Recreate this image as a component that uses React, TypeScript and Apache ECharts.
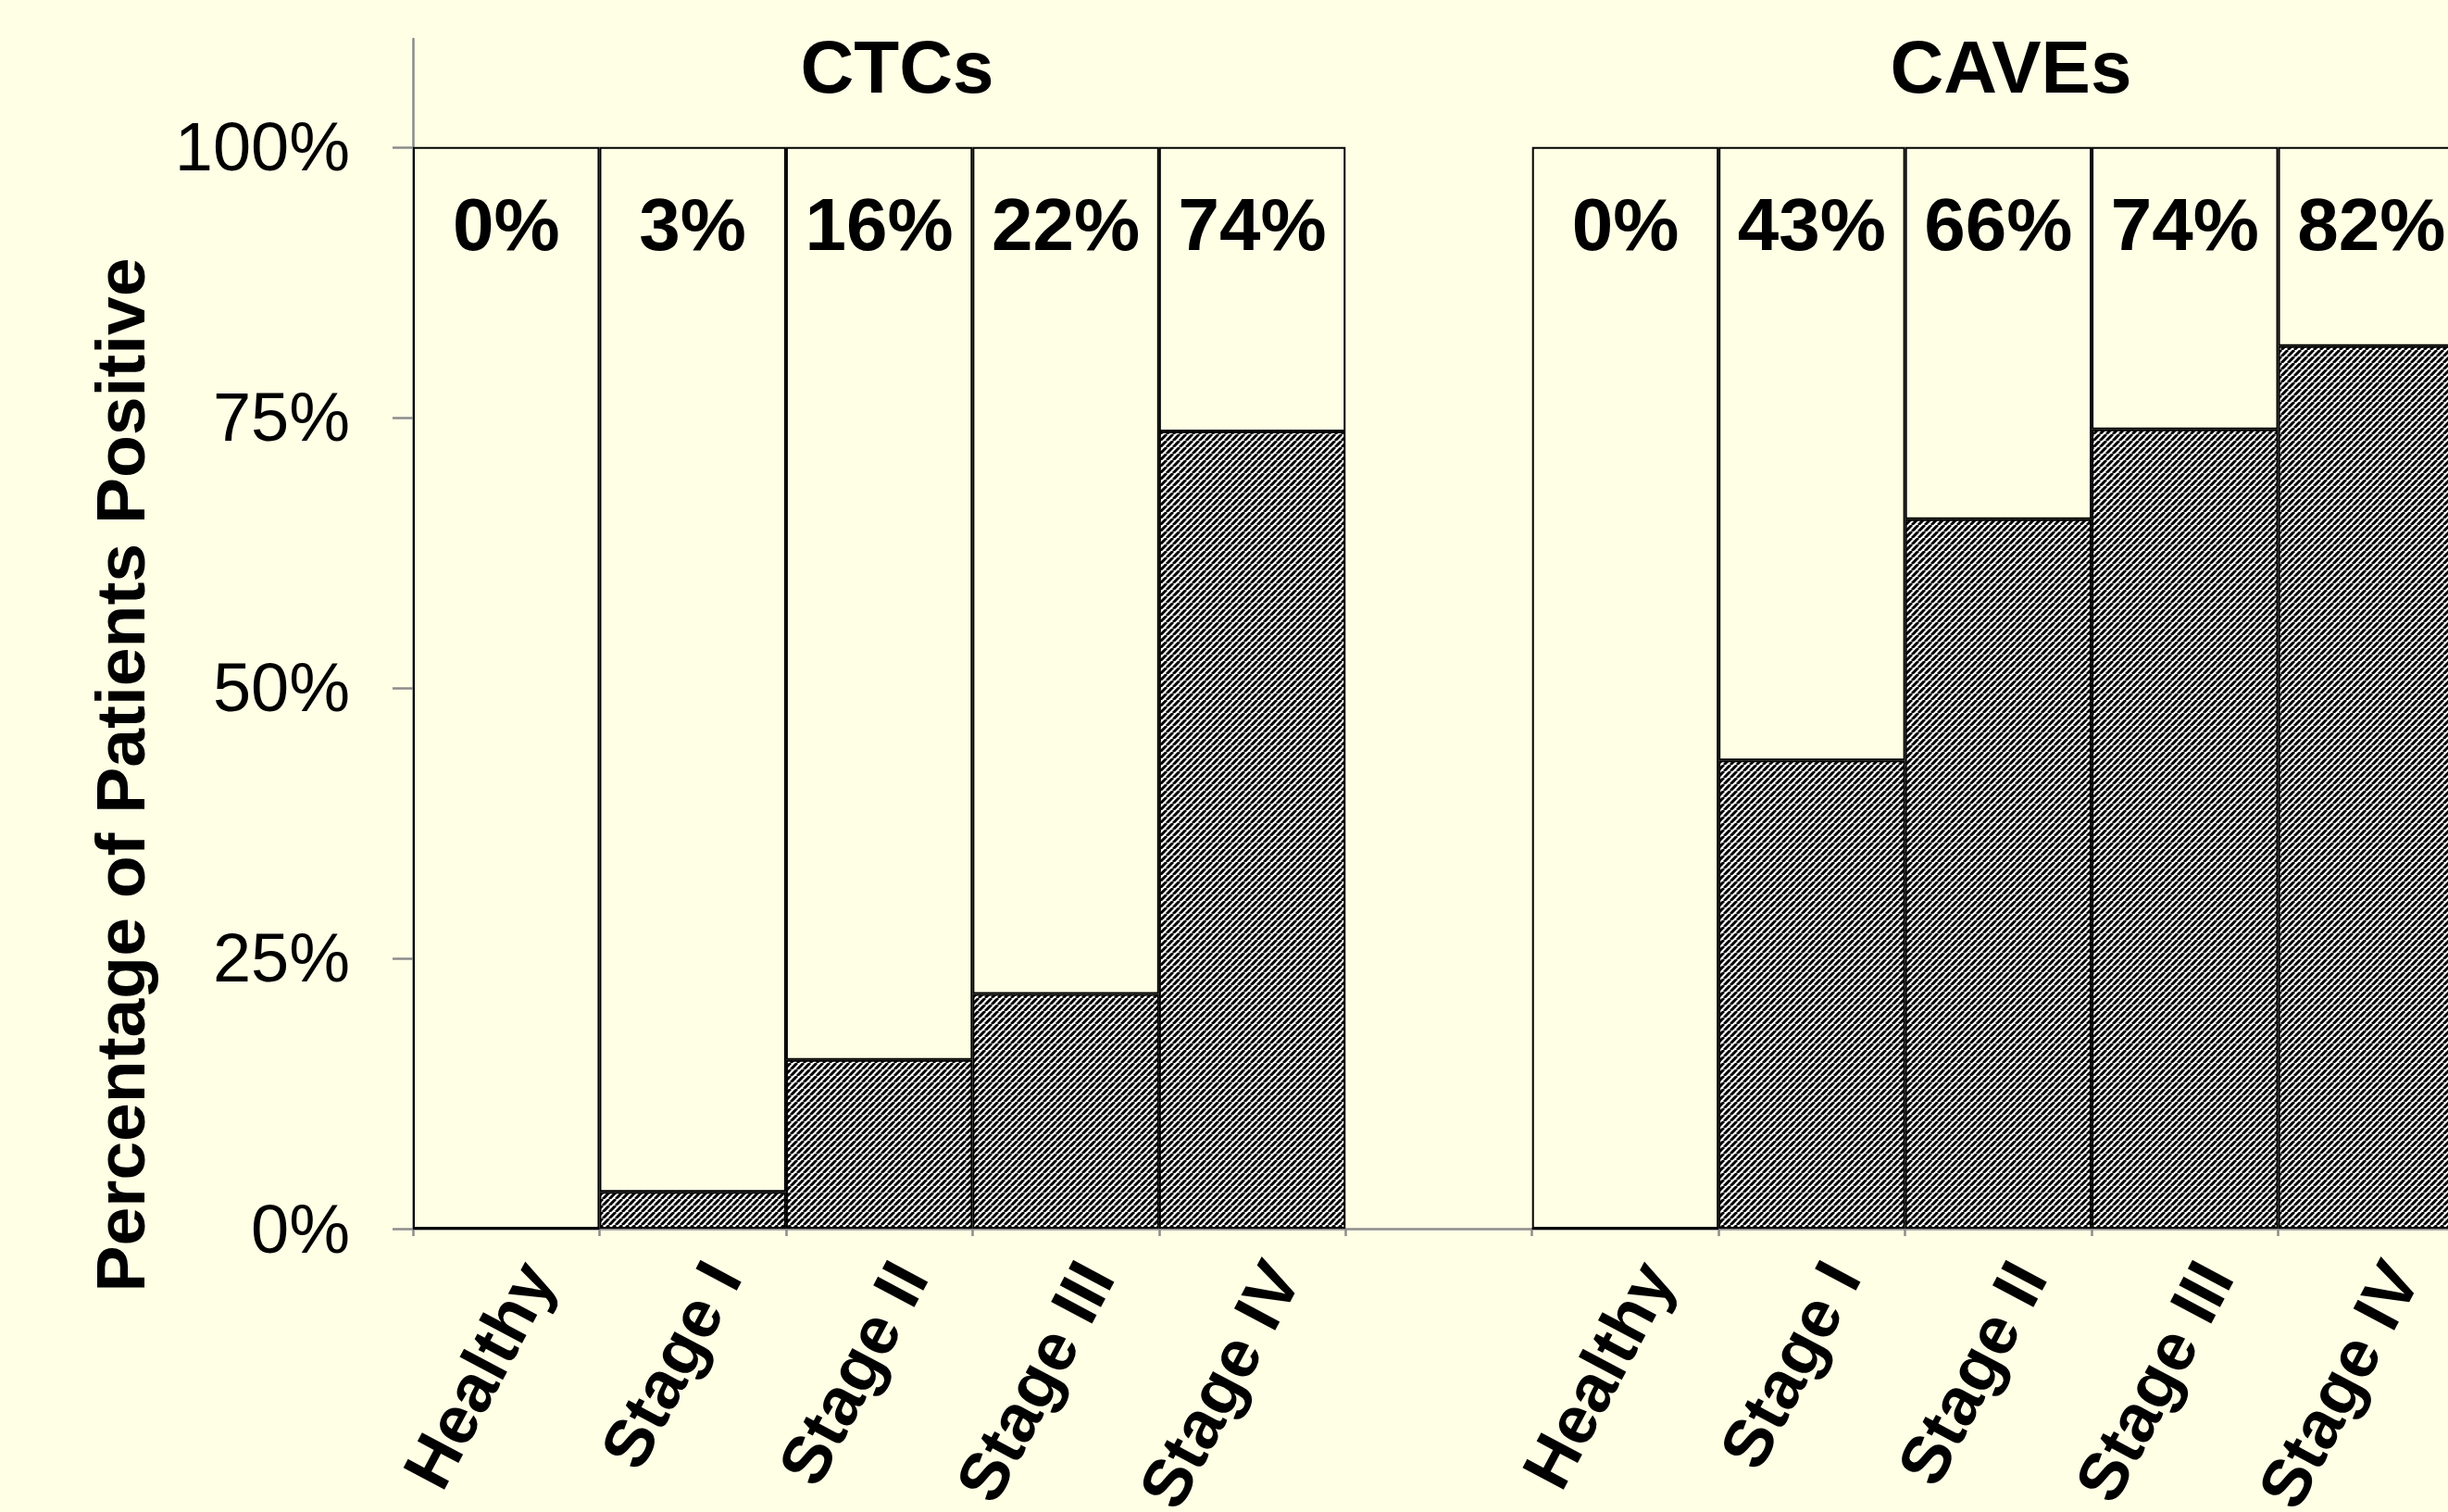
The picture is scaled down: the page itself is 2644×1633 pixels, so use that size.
import React, { useEffect, useRef } from 'react';
import * as echarts from 'echarts';

const categories = [
  'Healthy', 'Stage I', 'Stage II', 'Stage III', 'Stage IV',
  '',
  'Healthy', 'Stage I', 'Stage II', 'Stage III', 'Stage IV',
];
const ctcValues = [0, 3.4, 15.6, 21.7, 73.7];
const caveValues = [0, 43.3, 65.6, 73.9, 81.6];
const yTicks = [0, 25, 50, 75, 100];
const groupTitles = ['CTCs', 'CAVEs'];
const yAxisTitle = 'Percentage of Patients Positive';

const FONT = '"Liberation Sans", Arial, sans-serif';
const BG = '#FFFFE6';
const AXIS = '#8c8c8c';

function makeHatch() {
  const n = 7;
  const c = document.createElement('canvas');
  c.width = n;
  c.height = n;
  const ctx = c.getContext('2d')!;
  ctx.fillStyle = '#ffffff';
  ctx.fillRect(0, 0, n, n);
  ctx.strokeStyle = '#000000';
  ctx.lineWidth = 3;
  ctx.beginPath();
  for (let k = -1; k <= 1; k++) {
    ctx.moveTo(k * n, n);
    ctx.lineTo(k * n + n, 0);
  }
  ctx.stroke();
  return { image: c.toDataURL(), repeat: 'repeat', imageWidth: n, imageHeight: n };
}

export default function App() {
  const ref = useRef<HTMLDivElement>(null);
  useEffect(() => {
    if (!ref.current) return;
    const chart = echarts.init(ref.current, null, { renderer: 'svg' });
    const positive: (number | string)[] = [...ctcValues, '-', ...caveValues];
    const remainder = positive.map((v) => (v === '-' ? '-' : 100 - (v as number)));
    const labelText = positive.map((v) => (v === '-' ? '' : Math.round(v as number) + '%'));
    const hatch = makeHatch();

    chart.setOption({
      animation: false,
      backgroundColor: BG,
      textStyle: { fontFamily: FONT },
      grid: {
        left: 446,
        top: 42,
        width: 2216,
        height: 1285,
        containLabel: false,
        outerBoundsMode: 'none',
      },
      xAxis: {
        type: 'category',
        data: categories,
        boundaryGap: true,
        axisLine: { show: true, lineStyle: { color: AXIS, width: 2.5 } },
        axisTick: { show: true, interval: 0, length: 8, lineStyle: { color: AXIS, width: 2.5 } },
        axisLabel: {
          interval: 0,
          rotate: 62,
          margin: 24,
          verticalAlign: 'top',
          fontSize: 73,
          fontWeight: 'bold',
          color: '#000',
          fontFamily: FONT,
          hideOverlap: false,
        },
      },
      yAxis: {
        type: 'value',
        min: 0,
        max: 110,
        interval: 25,
        splitLine: { show: false },
        axisLine: { show: true, lineStyle: { color: AXIS, width: 2.5 } },
        axisTick: { show: true, customValues: yTicks, length: 22, lineStyle: { color: AXIS, width: 2.5 } },
        axisLabel: {
          customValues: yTicks,
          formatter: (v: number) => v + '%',
          margin: 68,
          fontSize: 74,
          color: '#000',
          fontFamily: FONT,
        },
      },
      series: [
        {
          type: 'bar',
          stack: 'total',
          data: positive,
          barCategoryGap: '0%',
          itemStyle: { color: hatch as any, borderColor: '#000', borderWidth: 2 },
          silent: true,
        },
        {
          type: 'bar',
          stack: 'total',
          data: remainder,
          barCategoryGap: '0%',
          itemStyle: { color: 'rgba(0,0,0,0)', borderColor: '#000', borderWidth: 2 },
          label: {
            show: true,
            position: ['50%', 84],
            align: 'center',
            verticalAlign: 'middle',
            formatter: (p: any) => labelText[p.dataIndex],
            fontSize: 80,
            fontWeight: 'bold',
            color: '#000',
            fontFamily: FONT,
          },
          silent: true,
        },
      ],
      graphic: [
        {
          type: 'text',
          x: 969,
          y: 72,
          style: {
            text: groupTitles[0],
            fontSize: 80,
            fontWeight: 'bold',
            fontFamily: FONT,
            fill: '#000',
            align: 'center',
            verticalAlign: 'middle',
            textAlign: 'center',
            textVerticalAlign: 'middle',
          },
        },
        {
          type: 'text',
          x: 2172,
          y: 72,
          style: {
            text: groupTitles[1],
            fontSize: 80,
            fontWeight: 'bold',
            fontFamily: FONT,
            fill: '#000',
            align: 'center',
            verticalAlign: 'middle',
            textAlign: 'center',
            textVerticalAlign: 'middle',
          },
        },
        {
          type: 'text',
          x: 130,
          y: 837,
          rotation: Math.PI / 2,
          style: {
            text: yAxisTitle,
            fontSize: 75,
            fontWeight: 'bold',
            fontFamily: FONT,
            fill: '#000',
            align: 'center',
            verticalAlign: 'middle',
            textAlign: 'center',
            textVerticalAlign: 'middle',
          },
        },
      ],
    });
    return () => chart.dispose();
  }, []);
  return (
    <div
      style={{
        position: 'absolute',
        left: 0,
        top: 0,
        width: 2644,
        height: 1633,
        overflow: 'hidden',
        background: BG,
      }}
    >
      <div ref={ref} style={{ width: 2644, height: 1633, overflow: 'hidden' }} />
    </div>
  );
}
